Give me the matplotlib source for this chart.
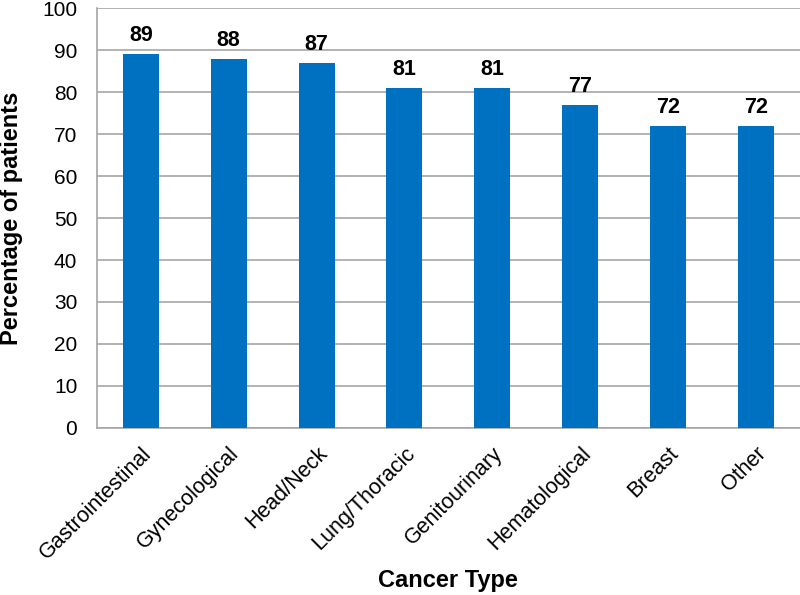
import matplotlib
matplotlib.use("Agg")
from matplotlib import pyplot as plt

categories = ["Gastrointestinal", "Gynecological", "Head/Neck", "Lung/Thoracic",
              "Genitourinary", "Hematological", "Breast", "Other"]
percentages = [89, 88, 87, 81, 81, 77, 72, 72]
y_ticks = list(range(0, 101, 10))

plt.rcParams["font.family"] = ["Liberation Sans", "DejaVu Sans"]

fig = plt.figure(figsize=(8, 5.95), dpi=100)
ax = fig.add_axes([0.121, 0.281, 0.879, 0.705])

x = range(len(categories))
bars = ax.bar(x, percentages, width=0.41, color="#0070C0", zorder=3)

# value labels above each bar
for rect, val in zip(bars, percentages):
    ax.text(rect.get_x() + rect.get_width() / 2, val + 3.1, str(val),
            ha="center", va="baseline", fontsize=15.5, fontweight="bold")

ax.set_xlim(-0.5, len(categories) - 0.5)
ax.set_ylim(0, 100)
ax.set_yticks(y_ticks)
ax.tick_params(axis="y", length=0, labelsize=15, pad=14)
ax.tick_params(axis="x", length=0, labelsize=15.5, pad=11)
ax.set_xticks(list(x))
ax.set_xticklabels(categories, rotation=45, ha="right", rotation_mode="anchor")

ax.grid(axis="y", color="#A6A6A6", linewidth=1.2, zorder=0)
for side in ["top", "right"]:
    ax.spines[side].set_visible(False)
for side in ["left", "bottom"]:
    ax.spines[side].set_color("#A6A6A6")
    ax.spines[side].set_linewidth(1.2)

ax.set_ylabel("Percentage of patients", fontsize=17, fontweight="bold", labelpad=14)
ax.set_xlabel("Cancer Type", fontsize=17, fontweight="bold", va="center")
ax.xaxis.set_label_coords(0.5, -0.363)

fig.savefig("out.png", dpi=100)
